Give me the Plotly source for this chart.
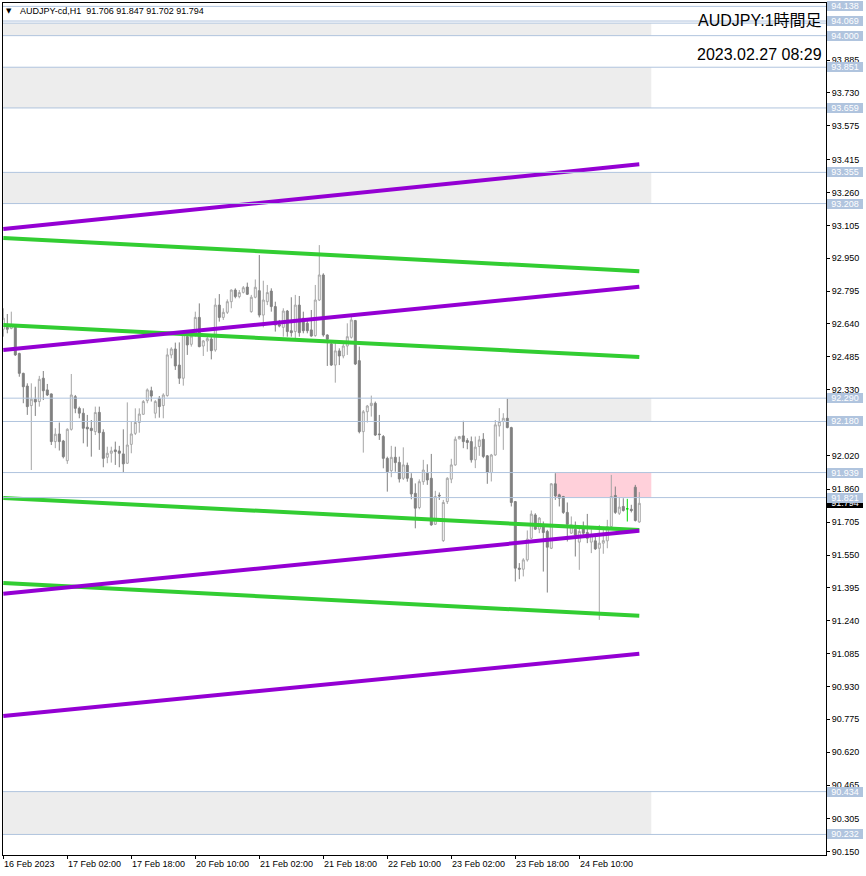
import plotly.graph_objects as go

# ---------------- data ----------------
opens = [92.615, 92.624, 92.619, 92.624, 92.501, 92.407, 92.347, 92.255, 92.285, 92.274,
         92.384, 92.329, 92.310, 92.085, 92.121, 92.088, 91.995, 92.143, 92.297, 92.242,
         92.219, 92.153, 92.148, 92.132, 92.223, 92.129, 92.011, 92.030, 92.046, 92.041,
         92.027, 91.983, 92.072, 92.124, 92.175, 92.214, 92.278, 92.325, 92.219, 92.289,
         92.255, 92.302, 92.494, 92.522, 92.446, 92.384, 92.580, 92.544, 92.588, 92.671,
         92.536, 92.560, 92.569, 92.517, 92.729, 92.671, 92.695, 92.745, 92.800, 92.769,
         92.789, 92.814, 92.698, 92.766, 92.797, 92.682, 92.745, 92.795, 92.722, 92.638,
         92.624, 92.701, 92.608, 92.604, 92.729, 92.667, 92.643, 92.612, 92.585, 92.753,
         92.871, 92.588, 92.546, 92.446, 92.513, 92.489, 92.536, 92.577, 92.656, 92.467,
         92.132, 92.226, 92.255, 92.266, 92.121, 92.109, 92.006, 91.948, 92.011, 91.987,
         91.912, 91.973, 91.912, 91.841, 91.774, 91.896, 91.936, 91.912, 91.695, 91.832,
         91.618, 91.802, 91.908, 91.975, 92.098, 92.112, 92.090, 92.085, 91.999, 92.062,
         92.096, 92.018, 91.939, 92.022, 92.159, 92.180, 92.195, 92.151, 91.802, 91.488,
         91.483, 91.527, 91.629, 91.739, 91.672, 91.684, 91.661, 91.582, 91.886, 91.834,
         91.826, 91.751, 91.653, 91.672, 91.611, 91.684, 91.656, 91.611, 91.617, 91.582,
         91.606, 91.617, 91.684, 91.831, 91.747, 91.779, 91.768, 91.766, 91.870, 91.706]
highs = [92.714, 92.687, 92.698, 92.635, 92.504, 92.410, 92.360, 92.360, 92.344, 92.395,
         92.418, 92.357, 92.312, 92.148, 92.175, 92.093, 92.148, 92.404, 92.305, 92.250,
         92.242, 92.211, 92.187, 92.250, 92.250, 92.143, 92.061, 92.061, 92.085, 92.065,
         92.143, 92.270, 92.179, 92.242, 92.242, 92.281, 92.336, 92.344, 92.281, 92.300,
         92.313, 92.525, 92.530, 92.552, 92.553, 92.598, 92.604, 92.596, 92.698, 92.737,
         92.564, 92.580, 92.588, 92.761, 92.781, 92.714, 92.756, 92.803, 92.808, 92.800,
         92.819, 92.835, 92.777, 92.850, 92.965, 92.844, 92.824, 92.808, 92.745, 92.659,
         92.714, 92.706, 92.766, 92.777, 92.772, 92.698, 92.659, 92.706, 92.824, 93.012,
         92.879, 92.591, 92.564, 92.564, 92.525, 92.549, 92.643, 92.678, 92.659, 92.533,
         92.234, 92.258, 92.302, 92.274, 92.211, 92.116, 92.014, 92.065, 92.061, 92.014,
         92.058, 91.986, 91.936, 91.888, 91.907, 91.999, 91.978, 92.027, 91.853, 91.845,
         91.810, 91.917, 92.004, 92.109, 92.112, 92.183, 92.101, 92.109, 92.109, 92.112,
         92.125, 92.022, 92.027, 92.187, 92.243, 92.219, 92.287, 92.155, 91.805, 91.512,
         91.535, 91.666, 91.760, 91.747, 91.729, 91.708, 91.669, 91.889, 91.936, 91.839,
         91.829, 91.798, 91.732, 91.708, 91.677, 91.708, 91.744, 91.672, 91.637, 91.692,
         91.669, 91.716, 91.928, 91.873, 91.823, 91.818, 91.815, 91.787, 91.881, 91.847]
lows = [92.580, 92.596, 92.615, 92.489, 92.391, 92.266, 92.211, 91.951, 92.206, 92.250,
        92.281, 92.300, 92.069, 92.054, 92.043, 92.006, 91.980, 92.137, 92.219, 92.195,
        92.077, 92.061, 92.014, 92.116, 92.046, 91.964, 91.983, 91.986, 91.975, 91.964,
        91.939, 91.980, 92.030, 92.116, 92.127, 92.211, 92.266, 92.274, 92.195, 92.198,
        92.195, 92.297, 92.478, 92.423, 92.357, 92.349, 92.494, 92.533, 92.580, 92.530,
        92.489, 92.509, 92.473, 92.509, 92.651, 92.659, 92.687, 92.714, 92.761, 92.761,
        92.784, 92.777, 92.693, 92.761, 92.671, 92.624, 92.729, 92.698, 92.604, 92.624,
        92.580, 92.580, 92.580, 92.572, 92.580, 92.596, 92.596, 92.580, 92.580, 92.748,
        92.580, 92.442, 92.442, 92.363, 92.446, 92.478, 92.494, 92.571, 92.446, 92.124,
        92.033, 92.175, 92.203, 92.112, 92.093, 91.959, 91.849, 91.917, 91.943, 91.892,
        91.904, 91.896, 91.813, 91.676, 91.766, 91.881, 91.881, 91.688, 91.692, 91.810,
        91.612, 91.791, 91.889, 91.971, 92.096, 92.054, 92.049, 91.986, 91.960, 92.018,
        92.007, 91.886, 91.897, 92.018, 92.109, 92.046, 92.148, 91.779, 91.425, 91.436,
        91.449, 91.519, 91.626, 91.669, 91.653, 91.472, 91.373, 91.578, 91.810, 91.779,
        91.744, 91.614, 91.650, 91.543, 91.480, 91.637, 91.606, 91.559, 91.574, 91.244,
        91.556, 91.582, 91.681, 91.744, 91.739, 91.755, 91.708, 91.751, 91.708, 91.702]
closes = [92.667, 92.615, 92.635, 92.494, 92.407, 92.344, 92.250, 92.285, 92.272, 92.379,
          92.325, 92.305, 92.085, 92.120, 92.085, 92.014, 92.143, 92.305, 92.242, 92.219,
          92.148, 92.145, 92.137, 92.222, 92.127, 92.006, 92.030, 92.041, 92.038, 92.030,
          91.980, 92.069, 92.121, 92.175, 92.215, 92.274, 92.329, 92.300, 92.274, 92.250,
          92.305, 92.494, 92.522, 92.442, 92.384, 92.593, 92.541, 92.583, 92.671, 92.533,
          92.560, 92.571, 92.514, 92.729, 92.671, 92.695, 92.745, 92.800, 92.769, 92.788,
          92.811, 92.780, 92.766, 92.813, 92.682, 92.753, 92.788, 92.722, 92.635, 92.630,
          92.701, 92.604, 92.599, 92.729, 92.599, 92.608, 92.608, 92.583, 92.753, 92.871,
          92.588, 92.568, 92.446, 92.513, 92.489, 92.536, 92.580, 92.659, 92.451, 92.132,
          92.226, 92.253, 92.266, 92.116, 92.118, 92.006, 91.943, 92.011, 91.986, 91.909,
          91.975, 91.912, 91.838, 91.771, 91.896, 91.951, 91.904, 91.692, 91.826, 91.829,
          91.798, 91.912, 91.975, 92.096, 92.109, 92.085, 92.081, 91.999, 92.059, 92.093,
          92.015, 91.939, 92.022, 92.164, 92.180, 92.195, 92.151, 91.798, 91.488, 91.483,
          91.527, 91.625, 91.743, 91.672, 91.724, 91.656, 91.587, 91.886, 91.829, 91.818,
          91.751, 91.695, 91.692, 91.645, 91.661, 91.653, 91.629, 91.645, 91.579, 91.606,
          91.618, 91.684, 91.826, 91.751, 91.776, 91.760, 91.768, 91.760, 91.713, 91.794]
highlight_bar = 156  # the bar drawn in green

xtick_bars = [0, 16, 32, 48, 64, 80, 96, 112, 128, 144]
xtick_labels = ["16 Feb 2023", "17 Feb 02:00", "17 Feb 18:00", "20 Feb 10:00",
                "21 Feb 02:00", "21 Feb 18:00", "22 Feb 10:00", "23 Feb 02:00",
                "23 Feb 18:00", "24 Feb 10:00"]
ytick_values = [93.885, 93.730, 93.575, 93.415, 93.260, 93.105, 92.950, 92.795,
                92.640, 92.485, 92.330, 92.020, 91.860, 91.705, 91.550, 91.395,
                91.240, 91.085, 90.930, 90.775, 90.620, 90.465, 90.305, 90.150]

level_prices = [94.138, 94.069, 94.000, 93.851, 93.659, 93.355, 93.208,
                92.290, 92.180, 91.939, 91.821, 90.434, 90.232]
extra_levels = [94.059]

zone_start = [0, 0, 0, 126, 138, 0]
zone_end = [162, 162, 162, 162, 162, 162]
zone_low = [94.000, 93.659, 93.208, 92.180, 91.821, 90.232]
zone_high = [94.059, 93.851, 93.355, 92.290, 91.939, 90.434]
zone_kind = ["gray", "gray", "gray", "gray", "pink", "gray"]

trend_bars = [0, 159]
purple_start = [93.088, 92.517, 91.367, 90.791]
purple_end = [93.393, 92.816, 91.664, 91.084]
green_start = [93.046, 92.635, 91.819, 91.418]
green_end = [92.889, 92.484, 91.668, 91.263]

symbol = "AUDJPY-cd,H1"
last_ohlc = ["91.706", "91.847", "91.702", "91.794"]
title_text = "AUDJPY:1時間足"
date_text = "2023.02.27 08:29"
current_price = 91.794

# ---------------- figure ----------------
W, H = 866, 876
X_MIN, X_MAX = -0.075, 205.675
Y_MIN, Y_MAX = 90.135, 94.154
FONT = "Liberation Sans, Arial, sans-serif"
UP_C = "#A6A6A6"
DN_C = "#808080"
LEVEL_C = "#B0C4DE"

n = len(opens)
idx = [i for i in range(n) if i != highlight_bar]

fig = go.Figure()

fig.add_trace(go.Candlestick(
    x=idx,
    open=[opens[i] for i in idx], high=[highs[i] for i in idx],
    low=[lows[i] for i in idx], close=[closes[i] for i in idx],
    increasing=dict(line=dict(color=UP_C, width=1), fillcolor="#FFFFFF"),
    decreasing=dict(line=dict(color=DN_C, width=1), fillcolor=DN_C),
    whiskerwidth=0, showlegend=False, hoverinfo="skip"))

hb = highlight_bar
fig.add_trace(go.Candlestick(
    x=[hb], open=[opens[hb]], high=[highs[hb]], low=[lows[hb]], close=[closes[hb]],
    increasing=dict(line=dict(color="#00DD00", width=1), fillcolor="#00DD00"),
    decreasing=dict(line=dict(color="#00DD00", width=1), fillcolor="#00DD00"),
    whiskerwidth=0, showlegend=False, hoverinfo="skip"))

for s, e in zip(green_start, green_end):
    fig.add_trace(go.Scatter(x=trend_bars, y=[s, e], mode="lines",
                             line=dict(color="#32CD32", width=4),
                             showlegend=False, hoverinfo="skip"))
for s, e in zip(purple_start, purple_end):
    fig.add_trace(go.Scatter(x=trend_bars, y=[s, e], mode="lines",
                             line=dict(color="#9400D3", width=4),
                             showlegend=False, hoverinfo="skip"))

shapes = []
for x0, x1, lo, hi, k in zip(zone_start, zone_end, zone_low, zone_high, zone_kind):
    shapes.append(dict(type="rect", xref="x", yref="y",
                       x0=max(x0, X_MIN), x1=x1, y0=lo, y1=hi,
                       fillcolor="#EDEDED" if k == "gray" else "#FFD0DA",
                       line=dict(width=0), layer="below"))
for p in level_prices + extra_levels:
    shapes.append(dict(type="line", xref="paper", yref="y", x0=0, x1=1, y0=p, y1=p,
                       line=dict(color=LEVEL_C, width=1), layer="above"))

annotations = []
# bottom time labels (left-aligned at their tick)
for b, t in zip(xtick_bars, xtick_labels):
    annotations.append(dict(x=b, xref="x", y=0, yref="paper", text=t,
                            xanchor="left", yanchor="top", yshift=-3, xshift=0,
                            showarrow=False, borderpad=0,
                            font=dict(family=FONT, size=9, color="#000000")))
# current price box
annotations.append(dict(x=1, xref="paper", y=current_price, yref="y",
                        text=f"{current_price:.3f}", xanchor="left", yanchor="middle",
                        xshift=1, showarrow=False, bgcolor="#000000", borderpad=0,
                        borderwidth=0, width=36, height=10,
                        font=dict(family=FONT, size=9, color="#FFFFFF")))
# level labels
for p in level_prices:
    annotations.append(dict(x=1, xref="paper", y=p, yref="y", text=f"{p:.3f}",
                            xanchor="left", yanchor="middle", xshift=1,
                            showarrow=False, bgcolor=LEVEL_C, borderpad=0,
                            borderwidth=0, width=36, height=10,
                            font=dict(family=FONT, size=9, color="#FFFFFF")))
# header
annotations.append(dict(x=0, xref="paper", y=1, yref="paper", text="▼",
                        xanchor="left", yanchor="middle", xshift=2, yshift=-8,
                        showarrow=False, borderpad=0,
                        font=dict(family="DejaVu Sans", size=7, color="#000000")))
annotations.append(dict(x=0, xref="paper", y=1, yref="paper",
                        text=symbol + "\u00a0\u00a0" + " ".join(last_ohlc),
                        xanchor="left", yanchor="middle", xshift=16, yshift=-8,
                        showarrow=False, borderpad=0,
                        font=dict(family=FONT, size=9, color="#000000")))
# top-right texts
annotations.append(dict(x=1, xref="paper", y=1, yref="paper", text=title_text,
                        xanchor="right", yanchor="middle", xshift=-3, yshift=-17,
                        showarrow=False, borderpad=0,
                        font=dict(family="Liberation Sans, Noto Sans CJK JP, sans-serif",
                                  size=16, color="#000000")))
annotations.append(dict(x=1, xref="paper", y=1, yref="paper", text=date_text,
                        xanchor="right", yanchor="middle", xshift=-3, yshift=-51,
                        showarrow=False, borderpad=0,
                        font=dict(family="Liberation Sans, Noto Sans CJK JP, sans-serif",
                                  size=16, color="#000000")))

fig.update_layout(
    width=W, height=H,
    margin=dict(l=3, r=40, t=3, b=21, pad=0),
    paper_bgcolor="#FFFFFF", plot_bgcolor="#FFFFFF",
    showlegend=False, boxgap=0.3,
    shapes=shapes, annotations=annotations,
    xaxis=dict(range=[X_MIN, X_MAX], rangeslider=dict(visible=False),
               showgrid=False, zeroline=False, showline=True, mirror=True,
               linecolor="#000000", linewidth=1,
               tickmode="array", tickvals=xtick_bars, showticklabels=False,
               ticks="outside", ticklen=3, tickcolor="#000000", tickwidth=1,
               automargin=False, fixedrange=True),
    yaxis=dict(range=[Y_MIN, Y_MAX], side="right",
               showgrid=False, zeroline=False, showline=True, mirror=True,
               linecolor="#000000", linewidth=1,
               tickmode="array", tickvals=ytick_values,
               ticktext=[f"{v:.3f}" for v in ytick_values],
               ticks="outside", ticklen=3, tickcolor="#000000", tickwidth=1,
               tickfont=dict(family=FONT, size=9, color="#000000"),
               automargin=False, fixedrange=True),
)

fig.write_html("out.html", config={"displayModeBar": False},
               post_script="document.body.style.margin='0px';")
